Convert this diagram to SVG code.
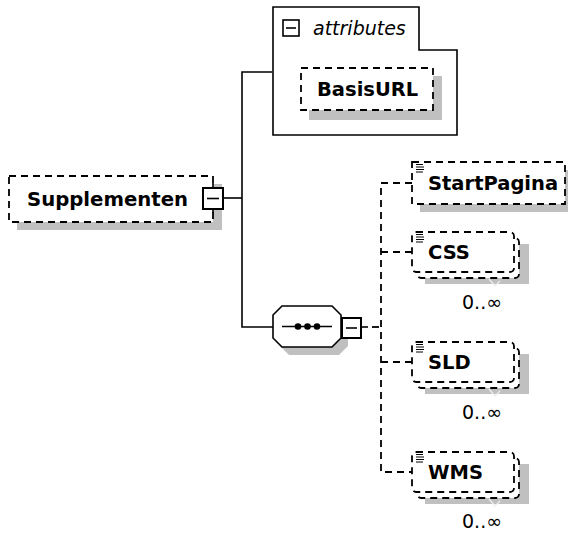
<svg xmlns="http://www.w3.org/2000/svg" width="568" height="534" viewBox="0 0 568 534">
<defs>
<style>
.bg{fill:#fff}
.sh{fill:#c0c0c0;stroke:none}
.dash{fill:#fff;stroke:#000;stroke-width:1.8;stroke-dasharray:7 5}
.solid{fill:#fff;stroke:#000;stroke-width:1.6}
.box{fill:#fff;stroke:#000;stroke-width:2}
.ln{fill:none;stroke:#000;stroke-width:1.6}
.dln{fill:none;stroke:#000;stroke-width:1.8;stroke-dasharray:7 5}
.lbl{font-family:"DejaVu Sans",Verdana,sans-serif;font-size:19.5px;font-weight:bold;fill:#000}
.it{font-family:"DejaVu Sans",Verdana,sans-serif;font-size:19px;font-style:italic;fill:#000}
.occ{font-family:"DejaVu Sans",Verdana,sans-serif;font-size:19px;fill:#000}
.ico{fill:none;stroke:#000;stroke-width:1}
.tick{fill:none;stroke:#eee;stroke-width:1.2}
</style>
</defs>
<rect width="568" height="534" class="bg"/>

<g id="connectors">
<polyline class="ln" points="223,198 242,198"/>
<polyline class="ln" points="272,72 242,72 242,327 273,327"/>
<polyline class="ln" points="361,327 368,327"/>
<polyline class="dln" points="372,327 381,327"/>
<polyline class="dln" points="412,183 381,183 381,472 412,472"/>
<polyline class="dln" points="381,252 412,252"/>
<polyline class="dln" points="381,362 412,362"/>
</g>

<g id="Supplementen">
<rect class="sh" x="17" y="184" width="205" height="46"/>
<rect class="dash" x="9" y="176" width="204" height="46"/>
<text class="lbl" x="27" y="206" textLength="161" lengthAdjust="spacingAndGlyphs">Supplementen</text>
<line class="ln" x1="213" y1="183" x2="213" y2="188"/>
<line class="ln" x1="213" y1="209" x2="213" y2="213"/>
<rect class="box" x="203" y="188" width="20" height="21"/>
<line class="ln" x1="207" y1="198.5" x2="219" y2="198.5"/>
</g>

<g id="attributes">
<path class="solid" d="M273,7 H419 V50 H457 V135 H273 Z"/>
<rect class="solid" x="283" y="20" width="16" height="16"/>
<line class="ln" x1="286" y1="28" x2="296" y2="28"/>
<text class="it" x="313" y="35">attributes</text>
</g>

<g id="BasisURL">
<rect class="sh" x="309" y="76" width="133" height="44"/>
<rect class="dash" x="301" y="68" width="132" height="42"/>
<text class="lbl" x="317" y="96">BasisURL</text>
</g>

<g id="sequence">
<polygon class="sh" points="289,314 339,314 348,323 348,346 339,355 289,355 280,346 280,323"/>
<polygon class="solid" points="282,306 332,306 341,315 341,338 332,347 282,347 273,338 273,315"/>
<line class="ln" x1="282" y1="326.5" x2="332" y2="326.5"/>
<circle cx="298" cy="326.5" r="3.3" fill="#000"/>
<circle cx="307.5" cy="326.5" r="3.3" fill="#000"/>
<circle cx="317" cy="326.5" r="3.3" fill="#000"/>
<rect class="box" x="342" y="318" width="19" height="20"/>
<line class="ln" x1="346" y1="328" x2="357" y2="328"/>
</g>

<g id="StartPagina">
<rect class="sh" x="420" y="170" width="153" height="42"/>
<rect class="dash" x="412" y="162" width="153" height="42"/>
<path class="ico" d="M416,164.5 h7 M416,167 h8 M416,169.5 h8 M416,172 h7"/>
<text class="lbl" x="428" y="190">StartPagina</text>
</g>

<g id="CSS">
<rect class="sh" x="425" y="244" width="104" height="40"/>
<rect class="dash" x="417" y="238" width="102" height="40" rx="4"/>
<rect class="dash" x="412" y="232" width="102" height="40" rx="4"/>
<path class="ico" d="M416,234.5 h7 M416,237 h8 M416,239.5 h8 M416,242 h7"/>
<path class="tick" d="M489,279 L495,286 L500,281"/>
<text class="lbl" x="428" y="259">CSS</text>
<text class="occ" x="462" y="309">0..∞</text>
</g>

<g id="SLD">
<rect class="sh" x="425" y="354" width="104" height="40"/>
<rect class="dash" x="417" y="348" width="102" height="40" rx="4"/>
<rect class="dash" x="412" y="342" width="102" height="40" rx="4"/>
<path class="ico" d="M416,344.5 h7 M416,347 h8 M416,349.5 h8 M416,352 h7"/>
<path class="tick" d="M489,389 L495,396 L500,391"/>
<text class="lbl" x="428" y="369">SLD</text>
<text class="occ" x="462" y="419">0..∞</text>
</g>

<g id="WMS">
<rect class="sh" x="425" y="464" width="104" height="40"/>
<rect class="dash" x="417" y="458" width="102" height="40" rx="4"/>
<rect class="dash" x="412" y="452" width="102" height="40" rx="4"/>
<path class="ico" d="M416,454.5 h7 M416,457 h8 M416,459.5 h8 M416,462 h7"/>
<path class="tick" d="M489,499 L495,506 L500,501"/>
<text class="lbl" x="428" y="479">WMS</text>
<text class="occ" x="462" y="528">0..∞</text>
</g>
</svg>
